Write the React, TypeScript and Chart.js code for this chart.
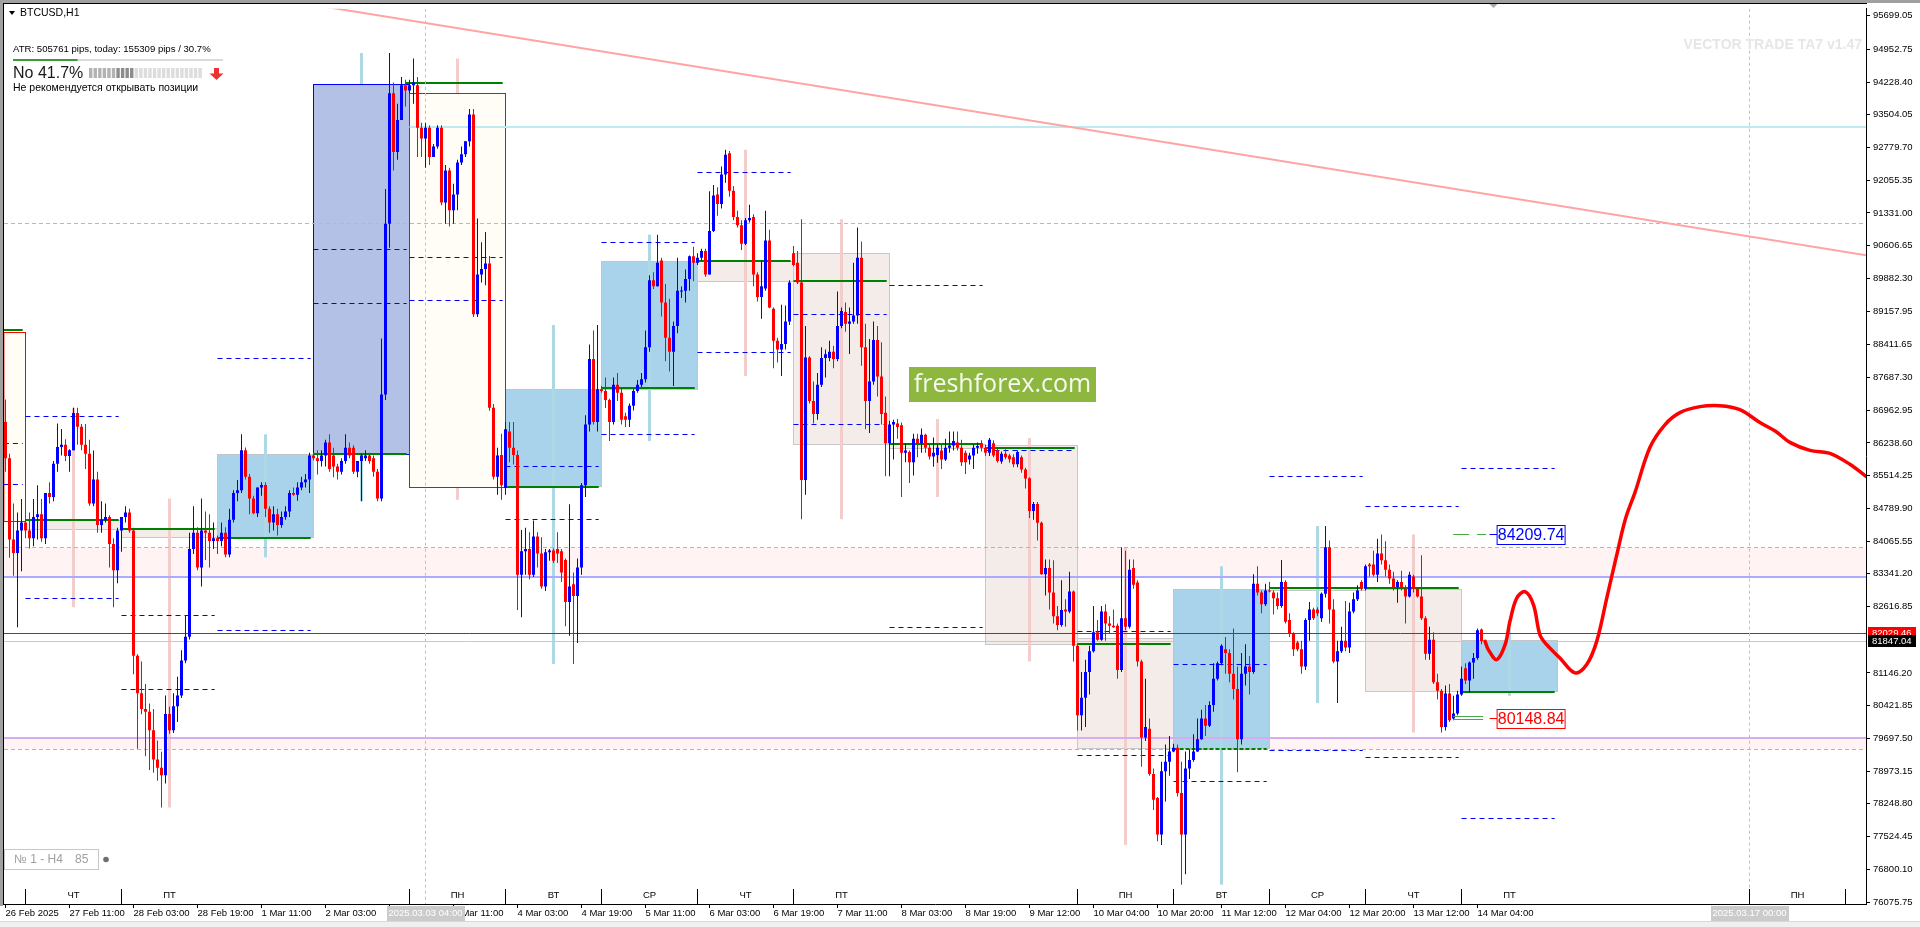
import React, { useEffect, useRef } from "react";
import { Chart, registerables } from "chart.js";

Chart.register(...registerables);

// ---------------- DATA ----------------
// H1 candles, bar index 0 = 26 Feb 2025 19:00 ; [open, high, low, close]
const ohlc: number[][] = [
  [86700, 87200, 85600, 85900], [85900, 86000, 83700, 84100], [84100, 84900, 83300, 83800], [83800, 84700, 82160, 84300],
  [84300, 85000, 83400, 84480], [84480, 84900, 84130, 84300], [84300, 84700, 83900, 84130], [84130, 85000, 83950, 84600],
  [84600, 85300, 84100, 84660], [84660, 85000, 84050, 84130], [84130, 85130, 84000, 85130], [85130, 85370, 84900, 85040],
  [85040, 85840, 84950, 85780], [85780, 86670, 85600, 86150], [86150, 86550, 85960, 86200], [86200, 86320, 85840, 85950],
  [85950, 86100, 85600, 86080], [86080, 87020, 86080, 86900], [86900, 87020, 86200, 86600], [86600, 86660, 86080, 86200],
  [86200, 86660, 85660, 86000], [86000, 86310, 84850, 84900], [84900, 86070, 84840, 85430], [85430, 85600, 84250, 84420],
  [84420, 84950, 84250, 84540], [84540, 84900, 84480, 84600], [84600, 84640, 83480, 84000], [84000, 84130, 82600, 83420],
  [83420, 84360, 83130, 84300], [84300, 84600, 83830, 84600], [84600, 84840, 84480, 84700], [84700, 84780, 84250, 84300],
  [84300, 84360, 81120, 81530], [81530, 81560, 79470, 80700], [80700, 81400, 80230, 80350], [80350, 80900, 79300, 80290],
  [80290, 80470, 79000, 79880], [79880, 80350, 78940, 79230], [79230, 79650, 78760, 79050], [79050, 79400, 78170, 78880],
  [78880, 80650, 78700, 80240], [80240, 80400, 79800, 79880], [79880, 80700, 79820, 80410], [80410, 81060, 80060, 80650],
  [80650, 81650, 80590, 81420], [81420, 82420, 81360, 81950], [81950, 84250, 81890, 83890], [83890, 84840, 83780, 84250],
  [84250, 84370, 83420, 83480], [83480, 85010, 83060, 84300], [84300, 84720, 83650, 84250], [84250, 84660, 83480, 84070],
  [84070, 84480, 83890, 84130], [84130, 84190, 83780, 84070], [84070, 84480, 83950, 84250], [84250, 84370, 83710, 83770],
  [83770, 84780, 83710, 84540], [84540, 85190, 84480, 85130], [85130, 85420, 84950, 85190], [85190, 86430, 85130, 86080],
  [86080, 86140, 85430, 85490], [85490, 85550, 84660, 85010], [85010, 85070, 84660, 84680], [84680, 85250, 84600, 85250],
  [85250, 85370, 85070, 85310], [85310, 85370, 84600, 84780], [84780, 84840, 84250, 84480], [84480, 84840, 84300, 84660],
  [84660, 84780, 84190, 84420], [84420, 84720, 84360, 84600], [84600, 84840, 84540, 84720], [84720, 85190, 84600, 85130],
  [85130, 85250, 85070, 85090], [85090, 85370, 84960, 85250], [85250, 85490, 85190, 85370], [85370, 85550, 85250, 85430],
  [85430, 86020, 85130, 85960], [85960, 86020, 85850, 85900], [85900, 86080, 85540, 85840], [85840, 86080, 85720, 85960],
  [85960, 86310, 85720, 86250], [86250, 86430, 85600, 85660], [85960, 86130, 85480, 85720], [85720, 85780, 85430, 85600],
  [85600, 85900, 85540, 85840], [85840, 86430, 85780, 86130], [86130, 86250, 85900, 85960], [86130, 86190, 85550, 85600],
  [85600, 85840, 85480, 85840], [85840, 86000, 84950, 85960], [85900, 86080, 85840, 85960], [85960, 86020, 85780, 85840],
  [85900, 85960, 85490, 85600], [85600, 85660, 84950, 85010], [85010, 88550, 84950, 87310], [87310, 91860, 87190, 91090],
  [91090, 94870, 90560, 93980], [93980, 94220, 92270, 92680], [92680, 93750, 92510, 93390], [93390, 94340, 93390, 94160],
  [94160, 94280, 93690, 94040], [94040, 94280, 93980, 94160], [94160, 94750, 93750, 94220], [94160, 94340, 92570, 93220],
  [93220, 93330, 92570, 92980], [92980, 93330, 92330, 93220], [93220, 93270, 92390, 92570], [92570, 92860, 92570, 92800],
  [92800, 93270, 92750, 93220], [93220, 93270, 91500, 91560], [91560, 92390, 91090, 92270], [92270, 92330, 91030, 91390],
  [91390, 91980, 91090, 91740], [91740, 92510, 91390, 92450], [92450, 92800, 92390, 92630], [92630, 92920, 92570, 92920],
  [92920, 93630, 92800, 93510], [93510, 93630, 89030, 89090], [89090, 91210, 89030, 89970], [89970, 90680, 89790, 90090],
  [90090, 90910, 89730, 90210], [90210, 90380, 86950, 87020], [87020, 87100, 85430, 85490], [85490, 86130, 85090, 85960],
  [85970, 86440, 84980, 85300], [85240, 86700, 85090, 86540], [86490, 86700, 85810, 86130], [86130, 86700, 85760, 85970],
  [85970, 86070, 82540, 83320], [83320, 84310, 82380, 83840], [83840, 84360, 83320, 83890], [83890, 84260, 83220, 83320],
  [83320, 84520, 83270, 84170], [84170, 84260, 83480, 83790], [83790, 84150, 83010, 83060], [83060, 83890, 82960, 83820],
  [83820, 83890, 83630, 83860], [83860, 83900, 83580, 83630], [83890, 84260, 83580, 83790], [83840, 83890, 83160, 83370],
  [83650, 83680, 82180, 82720], [82720, 84880, 81970, 83060], [83110, 83370, 81345, 82850], [82850, 83680, 81810, 83480],
  [83480, 85350, 83320, 85300], [85300, 86850, 85040, 86650], [86650, 88420, 86490, 88100], [88100, 88730, 86650, 86700],
  [86700, 88850, 86490, 87430], [87430, 87500, 87350, 87390], [87390, 87690, 87010, 87190], [87190, 87220, 86280, 86700],
  [86700, 87690, 86650, 87530], [87530, 87790, 87170, 87350], [87350, 87480, 86650, 86750], [86830, 86910, 86590, 86750],
  [86750, 87110, 86590, 87060], [87060, 87430, 86960, 87390], [87390, 87630, 87350, 87530], [87530, 87790, 87480, 87650],
  [87650, 88730, 87580, 88360], [88360, 89950, 88260, 89840], [89840, 90020, 89650, 89710], [89710, 90850, 89700, 90230],
  [90280, 90340, 89040, 89350], [89350, 89760, 88050, 88570], [88570, 89430, 87820, 88260], [88260, 88930, 87500, 88830],
  [88830, 90340, 88670, 89610], [89590, 89700, 89450, 89610], [89610, 90080, 89350, 89870], [89870, 90390, 89610, 90370],
  [90370, 90580, 89820, 90230], [90230, 90440, 90180, 90340], [90340, 90540, 90280, 90490], [90490, 90540, 89920, 89970],
  [89970, 91810, 89970, 90930], [90930, 91950, 90910, 91720], [91740, 91900, 91270, 91530], [91530, 92360, 91430, 92180],
  [92180, 92730, 92000, 92620], [92650, 92700, 91690, 91820], [91820, 91930, 91170, 91240], [91240, 91380, 91010, 91060],
  [91060, 91170, 90510, 90650], [90650, 91220, 90620, 91170], [91170, 91510, 91120, 91220], [91240, 91300, 89710, 89970],
  [89970, 90020, 89370, 89470], [89470, 90280, 88990, 89710], [89660, 91380, 89610, 90720], [90720, 90960, 89220, 89240],
  [89210, 89240, 87890, 88500], [88500, 88570, 88020, 88310], [88310, 89300, 87720, 88430], [88430, 89280, 88310, 88930],
  [88930, 89840, 88850, 89790], [90440, 90600, 90150, 90180], [90230, 90490, 89760, 89790], [89790, 91190, 84550, 85420],
  [85420, 88830, 85090, 88130], [88130, 88160, 87110, 87170], [87170, 87600, 86670, 86880], [86880, 87790, 86750, 87530],
  [87530, 88360, 87480, 88120], [88120, 88310, 87690, 88200], [88120, 88500, 88050, 88260], [88260, 88390, 87890, 88100],
  [88100, 89590, 88050, 88830], [88830, 89240, 88780, 89160], [89140, 89350, 88700, 88880], [88880, 89240, 88210, 88930],
  [88930, 90230, 88880, 89060], [89060, 91010, 88880, 90340], [90340, 90700, 87950, 88360], [88360, 88880, 86540, 87170],
  [87170, 88540, 86460, 87600], [87600, 88930, 87530, 88520], [88520, 88830, 87270, 87710], [87710, 88470, 86650, 86880],
  [86910, 87270, 85500, 86230], [86230, 86730, 85500, 86650], [86650, 86750, 85870, 86700], [86670, 86770, 86330, 86590],
  [86630, 86690, 85040, 86020], [86020, 86230, 85810, 86070], [86040, 86070, 85350, 85810], [85810, 86440, 85520, 86330],
  [86330, 86440, 85920, 86230], [86230, 86560, 86020, 86420], [86420, 86440, 86020, 86130], [86130, 86210, 85870, 85940],
  [85940, 86360, 85710, 86020], [85970, 86200, 85800, 86130], [86070, 86230, 85660, 85870], [85870, 86330, 85840, 86130],
  [86130, 86490, 86020, 86180], [86180, 86490, 86070, 86280], [86250, 86490, 86070, 86130], [86130, 86310, 85730, 85810],
  [86020, 86070, 85550, 85810], [85870, 86020, 85760, 85960], [85960, 86210, 85660, 86130], [86130, 86250, 86000, 86170],
  [86230, 86300, 86050, 86130], [86130, 86200, 85950, 86020], [86020, 86350, 85950, 86310], [86230, 86300, 85920, 85960],
  [86070, 86150, 85800, 85840], [85830, 86050, 85780, 86000], [86000, 86100, 85880, 85920], [85960, 86000, 85800, 85880],
  [85920, 85990, 85700, 85770], [85770, 86070, 85700, 86040], [85920, 85960, 85580, 85650], [85650, 85690, 85230, 85450],
  [85460, 85480, 84580, 84730], [84730, 84930, 84540, 84890], [84890, 84930, 84080, 84470], [84470, 84500, 83320, 83330],
  [83330, 83660, 82860, 83470], [83470, 83660, 82550, 82930], [82930, 83640, 82240, 82400], [82400, 82630, 82090, 82210],
  [82210, 83200, 82170, 82540], [82550, 82780, 82170, 82510], [82510, 83390, 82470, 82950], [82950, 82970, 81400, 81750],
  [81750, 81800, 79870, 80210], [80210, 81170, 79870, 80600], [80600, 81440, 79950, 81170], [81170, 81750, 80670, 81630],
  [81630, 82630, 81600, 82050], [82050, 82320, 81860, 81880], [81880, 82630, 81860, 82510], [82510, 82670, 81860, 82240],
  [82240, 82400, 82010, 82190], [82190, 82550, 82150, 82160], [82190, 82240, 81020, 81210], [81210, 83930, 81170, 82360],
  [82360, 83850, 82090, 82170], [82170, 83660, 82130, 83430], [83470, 83660, 83010, 83100], [83150, 83200, 81290, 81400],
  [81400, 81440, 79070, 79720], [79720, 81020, 79640, 79950], [79910, 80140, 78870, 78910], [78910, 79030, 78110, 78340],
  [78380, 78400, 77420, 77570], [77570, 79180, 77340, 78970], [78970, 79560, 78300, 79180], [79180, 79750, 78870, 79410],
  [79410, 79580, 79390, 79490], [79490, 79560, 78410, 78490], [78490, 79180, 76460, 77570], [77570, 79410, 76690, 79030],
  [79030, 79450, 78800, 79220], [79220, 79790, 79180, 79410], [79410, 80140, 79400, 79680], [79680, 80330, 79670, 80140],
  [80140, 80440, 79750, 79980], [79980, 80520, 79950, 80440], [80440, 81360, 80290, 81020], [81020, 81400, 80980, 81360],
  [81360, 81780, 81320, 81750], [81670, 81940, 81130, 81590], [81590, 81670, 80940, 81130], [81130, 82130, 80560, 80790],
  [80790, 81290, 78950, 79680], [79680, 81590, 79560, 81130], [81130, 81780, 80870, 81290], [81290, 81520, 80670, 81170],
  [81170, 83330, 81130, 83120], [83120, 83510, 82860, 82930], [82930, 82970, 82470, 82670], [82670, 83120, 82630, 82970],
  [82970, 83160, 82930, 82950], [82930, 82970, 82440, 82800], [82800, 82930, 82550, 82630], [82630, 83650, 82590, 83160],
  [83160, 83200, 82240, 82280], [82320, 82470, 81940, 82010], [82010, 82050, 81520, 81670], [81820, 81860, 81630, 81670],
  [81670, 81860, 81130, 81290], [81290, 82360, 81210, 82320], [82320, 82720, 81860, 82550], [82550, 82590, 82320, 82360],
  [82550, 82600, 82400, 82470], [82360, 82930, 82280, 82900], [82900, 84400, 82820, 83930], [83930, 84080, 82240, 82550],
  [82550, 82780, 81360, 81400], [81400, 81860, 80480, 81630], [81630, 82170, 81590, 81860], [81860, 82740, 81630, 81710],
  [81710, 82700, 81590, 82510], [82510, 82930, 82470, 82780], [82780, 83090, 82740, 82970], [83160, 83200, 82970, 83010],
  [83010, 83550, 82970, 83510], [83550, 83580, 83280, 83510], [83550, 83850, 83280, 83320], [83320, 84120, 83160, 83790],
  [83790, 84210, 83550, 83640], [83640, 84060, 83280, 83430], [83430, 83550, 83120, 83240], [83240, 83390, 82970, 83050],
  [83050, 83200, 82700, 83160], [83160, 83410, 82970, 83030], [83010, 83090, 82240, 82840], [82840, 83390, 82820, 83320],
  [83280, 83320, 82930, 83010], [83010, 83050, 82820, 82840], [82840, 83750, 82320, 82360], [82360, 82400, 81440, 81570],
  [81570, 82170, 81440, 81880], [81880, 82050, 80900, 80940], [80940, 81130, 80560, 80750], [80750, 80790, 79830, 79950],
  [79950, 80870, 79870, 80690], [80690, 80900, 80060, 80100], [80140, 80640, 80100, 80250], [80250, 80750, 80210, 80670],
  [80670, 81290, 80640, 81020], [81250, 81360, 80900, 80980], [80980, 81400, 80710, 81380], [81380, 81590, 81020, 81480],
  [81480, 82130, 81440, 82090], [82110, 82130, 81780, 81847],
];

const priceTicks = [
  95699.05, 94952.75, 94228.4, 93504.05, 92779.7, 92055.35, 91331.0, 90606.65, 89882.3, 89157.95,
  88411.65, 87687.3, 86962.95, 86238.6, 85514.25, 84789.9, 84065.55, 83341.2, 82616.85, 81146.2,
  80421.85, 79697.5, 78973.15, 78248.8, 77524.45, 76800.1, 76075.75,
];
const timeTickIdx = [0, 16, 32, 48, 64, 80, 96, 112, 128, 144, 160, 176, 192, 208, 224, 240, 256, 272, 288, 304, 320, 336, 352, 368];
const timeTickLabels = [
  "26 Feb 2025", "27 Feb 11:00", "28 Feb 03:00", "28 Feb 19:00", "1 Mar 11:00", "2 Mar 03:00", "2 Mar 19:00",
  "3 Mar 11:00", "4 Mar 03:00", "4 Mar 19:00", "5 Mar 11:00", "6 Mar 03:00", "6 Mar 19:00", "7 Mar 11:00",
  "8 Mar 03:00", "8 Mar 19:00", "9 Mar 12:00", "10 Mar 04:00", "10 Mar 20:00", "11 Mar 12:00", "12 Mar 04:00",
  "12 Mar 20:00", "13 Mar 12:00", "14 Mar 04:00",
];
const timeTagIdx = [105, 436];
const timeTagText = ["2025.03.03 04:00", "2025.03.17 00:00"];

// weekday row
const weekdayStart = [5, 29, 101, 125, 149, 173, 197, 268, 292, 316, 340, 364, 436, 460];
const weekdayName = ["ЧТ", "ПТ", "ПН", "ВТ", "СР", "ЧТ", "ПТ", "ПН", "ВТ", "СР", "ЧТ", "ПТ", "ПН", ""];

// daily boxes
const boxStart = [-0.4, 5, 29, 53, 77, 101, 125, 149, 173, 197, 221, 245, 268, 292, 316, 340, 364];
const boxEnd = [5, 29, 53, 77, 101, 125, 149, 173, 197, 221, 245, 268, 292, 316, 340, 364, 388];
const boxTop = [88695, 84511, 84335, 85986, 94184, 93981, 87427, 90253, 90253, 90429, 86209, 86193, 81919, 82991, 83035, 82991, 81874];
const boxBottom = [84489, 84313, 84137, 84137, 85986, 85260, 85264, 87427, 89805, 86200, 86127, 81773, 79474, 79474, 82980, 80738, 80730];
const boxKind = ["red", "bear", "bear", "bull", "big", "red", "bull", "bull", "bear", "bear", "bear", "bear", "bear", "bull", "bear", "bear", "bull"];

// previous-close (green) lines
const greenStart = [-0.4, 5, 29, 53, 77, 100, 125, 149, 173, 197, 221, 245, 268, 292, 316, 340, 364];
const greenEnd = [4.3, 28.3, 52.3, 76.3, 100.3, 124.3, 148.3, 172.3, 196.3, 220.3, 244.3, 267.3, 291.3, 315.3, 339.3, 363.3, 387.3];
const greenPrice = [88730, 84533, 84335, 84137, 85990, 94200, 85264, 87446, 90264, 89827, 86220, 86131, 81780, 79474, 83031, 83031, 80730];
const greenDashed = [false, false, false, false, false, false, false, false, false, false, false, false, false, true, false, false, false];

// blue dashed projection levels
const dashStart = [-0.4, -0.4, 5, 5, 29, 29, 53, 53, 77, 77, 101, 101, 125, 125, 149, 149, 173, 173, 197, 197, 221, 221, 245, 268, 268, 292, 292, 316, 316, 340, 340, 364, 364];
const dashEnd = [4.3, 4.3, 28.3, 28.3, 52.3, 52.3, 76.3, 76.3, 100.3, 100.3, 124.3, 124.3, 148.3, 148.3, 172.3, 172.3, 196.3, 196.3, 220.3, 220.3, 244.3, 244.3, 267.3, 291.3, 291.3, 315.3, 315.3, 339.3, 339.3, 363.3, 363.3, 387.3, 387.3];
const dashPrice = [86229, 85312, 86823, 82800, 82423, 80771, 88107, 82092, 90528, 89334, 90350, 89383, 85711, 84538, 90669, 86427, 92219, 88246, 89090, 86647, 89733, 82157, 86063, 82057, 79313, 81329, 78741, 85502, 79430, 84830, 79285, 85678, 77926];

// daily range markers (drawn at mid-day)
const markerIdx = [17, 41, 65, 89, 113, 137, 161, 185, 209, 233, 256, 280, 304, 328, 352, 376];
const markerFrom = [5, 29, 53, 77, 101, 125, 149, 173, 197, 221, 245, 268, 292, 316, 340, 364];
const markerTo = [29, 53, 77, 101, 125, 149, 173, 197, 221, 245, 268, 292, 316, 340, 364, 388];

// horizontal levels
const zoneTop = [83916, 79700];
const zoneBottom = [83262, 79456];
const grayDashLevel = 91096;
const cyanLevel = 93239;
const cyanFrom = 101;
const redLevel = 82029.46;
const bidLevel = 81847.04;

// target labels
const targetPrice = [84209.74, 80148.84];
const targetColor = ["#0000ff", "#ff0000"];

// forecast curve
const forecastIdx = [369.9, 370.7, 372.8, 374.9, 376.1, 377.8, 379.9, 382.0, 383.6, 385.3, 388.6, 392.4, 395.3, 397.8, 400.3, 402.8, 405.0, 407.4, 411.1, 414.9, 418.6, 423.6, 428.6, 433.6, 438.6, 442.6, 446.1, 451.1, 456.1, 461.1, 465.4];
const forecastPrice = [81846, 81663, 81443, 81773, 82286, 82800, 82947, 82654, 81993, 81773, 81479, 81149, 81333, 81846, 82800, 83754, 84560, 85150, 86140, 86647, 86911, 87043, 87065, 86977, 86691, 86493, 86251, 86075, 86009, 85766, 85480];

// trend line
const trendIdx = [80, 466];
const trendPrice = [95894, 90380];

// header texts
const symbolTitle = "BTCUSD,H1";
const atrText = "ATR: 505761 pips, today: 155309 pips / 30.7%";
const atrTodayPct = 30.7;
const signalText = "No 41.7%";
const signalPct = 41.7;
const adviceText = "Не рекомендуется открывать позиции";
const watermark = "VECTOR TRADE TA7 v1.47";
const brandText = "freshforex.com";
const widgetLeft = "№ 1 - H4";
const widgetRight = "85";

// ---------------- CHART ----------------
const FONT = '"Liberation Sans", Arial, sans-serif';
const XMIN = -0.375;
const XMAX = XMIN + 1862 / 4;
const YMAX = 95853;
const YMIN = YMAX - 900 * (19623.3 / 891);

const BOX_STYLES: any = {
  bull: { fill: "#a9d3ea", stroke: "#c4c4c4", front: false },
  bear: { fill: "#f4ece9", stroke: "#c8c8c8", front: false },
  big: { fill: "#b3c1e6", stroke: "#0000ff", front: true },
  red: { fill: "#fffdf6", stroke: "#ff0000", front: true },
};

function crisp(v: number) {
  return Math.round(v - 0.5) + 0.5;
}

function hline(ctx: any, x1: number, x2: number, y: number, color: string, width: number, dash?: number[]) {
  ctx.save();
  ctx.strokeStyle = color;
  ctx.lineWidth = width;
  ctx.setLineDash(dash || []);
  const yy = width % 2 === 1 ? crisp(y) : Math.round(y);
  ctx.beginPath();
  ctx.moveTo(x1, yy);
  ctx.lineTo(x2, yy);
  ctx.stroke();
  ctx.restore();
}

function drawBoxes(ctx: any, X: any, Y: any, front: boolean) {
  for (let k = 0; k < boxStart.length; k++) {
    const st = BOX_STYLES[boxKind[k]];
    if (st.front !== front) continue;
    const x1 = X(boxStart[k]);
    const x2 = X(boxEnd[k]);
    const y1 = crisp(Y(boxTop[k]));
    const y2 = crisp(Y(boxBottom[k]));
    ctx.fillStyle = st.fill;
    ctx.fillRect(x1, y1, x2 - x1, y2 - y1);
    ctx.strokeStyle = st.stroke;
    ctx.lineWidth = 1;
    ctx.strokeRect(x1, y1, x2 - x1, y2 - y1);
  }
}

const overlay = {
  id: "mtOverlay",
  beforeDraw(chart: any) {
    const { ctx, width, height } = chart;
    ctx.save();
    ctx.fillStyle = "#ffffff";
    ctx.fillRect(0, 0, width, height);
    ctx.fillStyle = "#a0a0a0";
    ctx.fillRect(0, 0, width, 3);
    ctx.fillRect(0, 0, 3, 906);
    ctx.fillStyle = "#f0f0f0";
    ctx.fillRect(0, 922, width, 5);
    ctx.fillStyle = "#d8d8d8";
    ctx.fillRect(0, 921, width, 1);
    ctx.restore();
  },
  beforeDatasetsDraw(chart: any) {
    const { ctx, chartArea: a } = chart;
    const xs = chart.scales.x;
    const ys = chart.scales.y;
    const X = (i: number) => xs.getPixelForValue(i);
    const Y = (p: number) => ys.getPixelForValue(p);
    ctx.save();
    ctx.beginPath();
    ctx.rect(a.left, a.top, a.right - a.left, a.bottom - a.top);
    ctx.clip();

    // zones
    for (let k = 0; k < zoneTop.length; k++) {
      const y1 = Y(zoneTop[k]);
      const y2 = Y(zoneBottom[k]);
      ctx.fillStyle = "#fff3f3";
      ctx.fillRect(a.left, Math.min(y1, y2), a.right - a.left, Math.abs(y2 - y1));
    }

    // daily boxes (background ones)
    drawBoxes(ctx, X, Y, false);

    // daily range markers
    for (let k = 0; k < markerIdx.length; k++) {
      const slice = ohlc.slice(markerFrom[k], Math.min(markerTo[k], ohlc.length));
      if (!slice.length) continue;
      const hi = Math.max(...slice.map((c) => c[1]));
      const lo = Math.min(...slice.map((c) => c[2]));
      const bull = slice[slice.length - 1][3] >= slice[0][0];
      ctx.strokeStyle = bull ? "#add8e6" : "#f3cccc";
      ctx.lineWidth = 3;
      const x = X(markerIdx[k]);
      ctx.beginPath();
      ctx.moveTo(x, Y(hi));
      ctx.lineTo(x, Y(lo));
      ctx.stroke();
    }

    // highlighted boxes on top of markers
    drawBoxes(ctx, X, Y, true);

    // horizontal levels
    hline(ctx, a.left, a.right, Y(grayDashLevel), "#b8b8b8", 1, [4, 3]);
    hline(ctx, X(cyanFrom), a.right, Y(cyanLevel), "#bfeaef", 2);
    hline(ctx, a.left, a.right, Y(zoneTop[0]), "#b4b4b4", 1, [4, 3]);
    hline(ctx, a.left, a.right, Y(zoneBottom[0]), "#aaaaff", 2);
    hline(ctx, a.left, a.right, Y(zoneTop[1]), "#d8acf0", 2);
    hline(ctx, a.left, a.right, Y(zoneBottom[1]), "#b4b4b4", 1, [4, 3]);

    // blue dashed projection levels
    for (let k = 0; k < dashStart.length; k++) {
      hline(ctx, X(dashStart[k]), X(dashEnd[k]), Y(dashPrice[k]), "#0000ff", 1, [5, 4]);
    }

    // current price lines
    hline(ctx, a.left, a.right, Y(bidLevel), "#c8c8c8", 1);
    hline(ctx, a.left, a.right, Y(redLevel), "#ff0000", 1);

    // green previous-close lines
    for (let k = 0; k < greenStart.length; k++) {
      hline(ctx, X(greenStart[k]), X(greenEnd[k]), Y(greenPrice[k]), "#008000", 2, greenDashed[k] ? [4, 2] : undefined);
    }

    // vertical dotted markers
    for (const idx of timeTagIdx) {
      const x = X(idx);
      ctx.strokeStyle = "#c0c0c0";
      ctx.lineWidth = 1;
      ctx.setLineDash([3, 3]);
      ctx.beginPath();
      ctx.moveTo(x, a.top);
      ctx.lineTo(x, a.bottom);
      ctx.stroke();
      ctx.setLineDash([]);
    }
    ctx.restore();
  },
  afterDatasetsDraw(chart: any) {
    const { ctx, chartArea: a } = chart;
    const xs = chart.scales.x;
    const ys = chart.scales.y;
    const X = (i: number) => xs.getPixelForValue(i);
    const Y = (p: number) => ys.getPixelForValue(p);
    ctx.save();
    ctx.beginPath();
    ctx.rect(a.left, a.top, a.right - a.left, a.bottom - a.top);
    ctx.clip();

    // weekday row
    ctx.font = `9.5px ${FONT}`;
    ctx.textAlign = "center";
    ctx.textBaseline = "middle";
    for (let k = 0; k < weekdayStart.length; k++) {
      const x = X(weekdayStart[k]);
      ctx.strokeStyle = "#000";
      ctx.lineWidth = 1;
      ctx.beginPath();
      ctx.moveTo(x, a.bottom - 15);
      ctx.lineTo(x, a.bottom);
      ctx.stroke();
      if (weekdayName[k]) {
        ctx.fillStyle = "#000";
        ctx.fillText(weekdayName[k], X(weekdayStart[k] + 12), a.bottom - 9);
      }
    }

    // target labels
    for (let k = 0; k < targetPrice.length; k++) {
      const y = crisp(Y(targetPrice[k]));
      const xa = X(361.9);
      const xb = X(371.5);
      ctx.strokeStyle = "#44aa44";
      ctx.lineWidth = 1;
      if (k === 0) {
        ctx.beginPath();
        ctx.moveTo(xa, y); ctx.lineTo(xa + 16, y);
        ctx.moveTo(xa + 24, y); ctx.lineTo(xa + 33, y);
        ctx.stroke();
      } else {
        ctx.beginPath();
        ctx.moveTo(xa, y - 2); ctx.lineTo(xa + 30, y - 2);
        ctx.moveTo(xa, y + 1); ctx.lineTo(xa + 30, y + 1);
        ctx.stroke();
      }
      ctx.strokeStyle = targetColor[k];
      ctx.beginPath();
      ctx.moveTo(xb - 2, y);
      ctx.lineTo(X(372.9), y);
      ctx.stroke();
      const bx = X(372.9);
      const bw = X(389.9) - bx;
      ctx.fillStyle = "#ffffff";
      ctx.fillRect(bx, y - 9, bw, 19);
      ctx.strokeRect(bx, y - 9, bw, 19);
      ctx.fillStyle = targetColor[k];
      ctx.font = `16px ${FONT}`;
      ctx.textAlign = "center";
      ctx.textBaseline = "middle";
      ctx.fillText(targetPrice[k].toFixed(2), bx + bw / 2, y + 1);
    }
    ctx.restore();

    // brand logo
    ctx.save();
    ctx.fillStyle = "#8db73f";
    ctx.fillRect(909, 367, 187, 35);
    ctx.fillStyle = "#f7faef";
    ctx.font = `25px "Open Sans", ${FONT}`;
    ctx.textAlign = "center";
    ctx.textBaseline = "middle";
    ctx.fillText(brandText, 1002.5, 385);

    // watermark
    ctx.fillStyle = "#e6e6e6";
    ctx.font = `bold 14px ${FONT}`;
    ctx.textAlign = "right";
    ctx.fillText(watermark, 1862, 45);

    // header
    ctx.fillStyle = "#000";
    ctx.beginPath();
    ctx.moveTo(9, 11); ctx.lineTo(15, 11); ctx.lineTo(12, 15); ctx.closePath();
    ctx.fill();
    ctx.textAlign = "left";
    ctx.font = `10.5px ${FONT}`;
    ctx.fillText(symbolTitle, 20, 13.5);
    ctx.font = `9.6px ${FONT}`;
    ctx.fillText(atrText, 13, 49);
    const barW = 210;
    ctx.fillStyle = "#dadada";
    ctx.fillRect(13, 59, barW, 2);
    ctx.fillStyle = "#3c9a3c";
    ctx.fillRect(13, 59, (barW * atrTodayPct) / 100, 2);
    ctx.fillStyle = "#1a1a1a";
    ctx.font = `16px ${FONT}`;
    ctx.fillText(signalText, 13, 74);
    const nBlocks = 25;
    const filled = Math.round((nBlocks * signalPct) / 100);
    for (let k = 0; k < nBlocks; k++) {
      ctx.fillStyle = k < filled ? (k < 6 ? "#b2b2b2" : "#8c8c8c") : "#dddddd";
      ctx.fillRect(89 + k * 4.56, 68, 3.4, 10);
    }
    ctx.fillStyle = "#ee3030";
    ctx.fillRect(214, 68, 5, 6);
    ctx.beginPath();
    ctx.moveTo(209.5, 73.5); ctx.lineTo(223.5, 73.5); ctx.lineTo(216.5, 80); ctx.closePath();
    ctx.fill();
    ctx.fillStyle = "#000";
    ctx.font = `10.5px ${FONT}`;
    ctx.fillText(adviceText, 13, 88.5);

    // bottom widget
    ctx.fillStyle = "#ffffff";
    ctx.fillRect(4.5, 849.5, 94, 20);
    ctx.strokeStyle = "#c8c8c8";
    ctx.lineWidth = 1;
    ctx.strokeRect(4.5, 849.5, 94, 20);
    ctx.fillStyle = "#a0a0a0";
    ctx.font = `12px ${FONT}`;
    ctx.fillText(widgetLeft, 14, 860);
    ctx.fillText(widgetRight, 75, 860);
    ctx.fillStyle = "#6e6e6e";
    ctx.beginPath();
    ctx.arc(106, 859.5, 2.8, 0, Math.PI * 2);
    ctx.fill();

    // frame
    ctx.strokeStyle = "#000";
    ctx.lineWidth = 1;
    ctx.beginPath();
    ctx.moveTo(3.5, 3); ctx.lineTo(3.5, a.bottom + 1);
    ctx.moveTo(3, 3.5); ctx.lineTo(a.right + 1, 3.5);
    ctx.stroke();
    ctx.restore();
  },
  afterDraw(chart: any) {
    const { ctx, chartArea: a } = chart;
    const xs = chart.scales.x;
    const ys = chart.scales.y;
    const X = (i: number) => xs.getPixelForValue(i);
    const Y = (p: number) => ys.getPixelForValue(p);
    ctx.save();
    ctx.font = `9.5px ${FONT}`;
    ctx.textBaseline = "middle";
    ctx.textAlign = "left";
    const tags = [
      { p: redLevel, bg: "#ff0000" },
      { p: bidLevel, bg: "#000000" },
    ];
    for (const t of tags) {
      const y = Math.round(Y(t.p));
      ctx.fillStyle = t.bg;
      ctx.fillRect(a.right + 2, y - 6, 48, 12);
      ctx.fillStyle = "#ffffff";
      ctx.fillText(t.p.toFixed(2), a.right + 6, y + 0.5);
    }
    ctx.textAlign = "center";
    for (let k = 0; k < timeTagIdx.length; k++) {
      const x = X(timeTagIdx[k]);
      ctx.fillStyle = "#cbcbcb";
      ctx.fillRect(Math.round(x - 39), a.bottom + 2, 78, 15);
      ctx.fillStyle = "#ffffff";
      ctx.fillText(timeTagText[k], x, a.bottom + 9.5);
    }
    // chart shift marker
    ctx.fillStyle = "#a8a8a8";
    const sx = X(372);
    ctx.beginPath();
    ctx.moveTo(sx - 4, 4); ctx.lineTo(sx + 4, 4); ctx.lineTo(sx, 8); ctx.closePath();
    ctx.fill();
    ctx.restore();
  },
};

export default function App() {
  const ref = useRef<HTMLCanvasElement>(null);
  useEffect(() => {
    const canvas = ref.current as HTMLCanvasElement;
    const colors = ohlc.map((c) => (c[3] >= c[0] ? "#0000ff" : "#ff0000"));
    const wickData = ohlc.map((c, i) => ({ x: i, y: [Math.min(c[2], c[0], c[3]), Math.max(c[1], c[0], c[3])] }));
    const bodyData = ohlc.map((c, i) => ({ x: i, y: [c[0], c[3]] }));
    const tickFont = { family: FONT, size: 9.5 };
    const chart = new Chart(canvas, {
      type: "bar",
      data: {
        datasets: [
          {
            type: "bar",
            data: wickData as any,
            backgroundColor: colors,
            barThickness: 1,
            grouped: false,
            borderWidth: 0,
            inflateAmount: 0,
            order: 3,
          } as any,
          {
            type: "bar",
            data: bodyData as any,
            backgroundColor: colors,
            barThickness: 3,
            grouped: false,
            borderWidth: 0,
            inflateAmount: 0,
            minBarLength: 1,
            order: 2,
          } as any,
          {
            type: "line",
            data: trendIdx.map((x, k) => ({ x, y: trendPrice[k] })) as any,
            borderColor: "#ffa3a3",
            borderWidth: 2,
            pointRadius: 0,
            order: 1,
          } as any,
          {
            type: "line",
            data: forecastIdx.map((x, k) => ({ x, y: forecastPrice[k] })) as any,
            borderColor: "#ff0000",
            borderWidth: 3.5,
            pointRadius: 0,
            tension: 0.35,
            borderCapStyle: "round",
            order: 0,
          } as any,
        ],
      },
      options: {
        responsive: false,
        animation: false,
        devicePixelRatio: 1,
        events: [],
        layout: { padding: { left: 4, top: 4, right: 0, bottom: 0 } },
        plugins: { legend: { display: false }, tooltip: { enabled: false } },
        scales: {
          x: {
            type: "linear",
            min: XMIN,
            max: XMAX,
            offset: false,
            bounds: "data",
            grid: { display: true, drawOnChartArea: false, drawTicks: true, tickLength: 4, color: "#000", offset: false },
            border: { display: true, color: "#000" },
            ticks: {
              autoSkip: false,
              maxRotation: 0,
              minRotation: 0,
              align: "start",
              padding: 0,
              color: "#000",
              font: tickFont,
              callback: (_v: any, idx: number) => timeTickLabels[idx],
            },
            afterBuildTicks: (s: any) => {
              s.ticks = timeTickIdx.map((v) => ({ value: v }));
            },
            afterFit: (s: any) => {
              s.height = 23;
            },
          } as any,
          y: {
            type: "linear",
            position: "right",
            min: YMIN,
            max: YMAX,
            beginAtZero: false,
            bounds: "data",
            grid: { display: true, drawOnChartArea: false, drawTicks: true, tickLength: 4, color: "#000" },
            border: { display: true, color: "#000" },
            ticks: {
              autoSkip: false,
              padding: 3,
              color: "#000",
              font: tickFont,
              callback: (v: any) => Number(v).toFixed(2),
            },
            afterBuildTicks: (s: any) => {
              s.ticks = priceTicks.map((v) => ({ value: v }));
            },
            afterFit: (s: any) => {
              s.width = 54;
            },
          } as any,
        },
      } as any,
      plugins: [overlay],
    });
    return () => chart.destroy();
  }, []);
  return (
    <div style={{ position: "fixed", left: 0, top: 0, width: 1920, height: 927, background: "#fff", overflow: "hidden" }}>
      <canvas ref={ref} width={1920} height={927} style={{ display: "block", width: 1920, height: 927 }} />
    </div>
  );
}
